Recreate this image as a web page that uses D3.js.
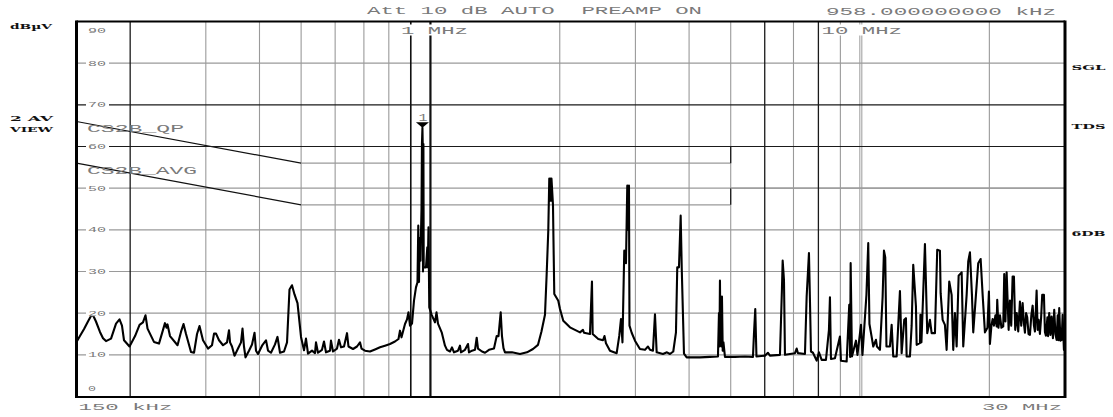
<!DOCTYPE html>
<html>
<head>
<meta charset="utf-8">
<script src="https://cdn.jsdelivr.net/npm/d3@7"></script>
<style>
  html, body { margin: 0; padding: 0; background: #fff; }
  svg { display: block; }
</style>
</head>
<body>
<svg id="chart" width="1113" height="417"></svg>
<script>
// ---- Sweep trace: frequency in MHz, level in dBµV ----
const traceFreq = [
  0.1500, 0.1528, 0.1562, 0.1595, 0.1621, 0.1639, 0.1665, 0.1701, 0.1729, 0.1757,
  0.1805, 0.1854, 0.1889, 0.1914, 0.1935, 0.1993, 0.2053, 0.2103, 0.2142, 0.2171,
  0.2195, 0.2272, 0.2334, 0.2385, 0.2410, 0.2430, 0.2443, 0.2476, 0.2578, 0.2626,
  0.2662, 0.2698, 0.2771, 0.2816, 0.2862, 0.2900, 0.2955, 0.3035, 0.3101, 0.3135,
  0.3169, 0.3220, 0.3290, 0.3361, 0.3397, 0.3416, 0.3452, 0.3499, 0.3565, 0.3623,
  0.3652, 0.3681, 0.3711, 0.3781, 0.3843, 0.3895, 0.3926, 0.3968, 0.4055, 0.4142,
  0.4187, 0.4254, 0.4347, 0.4405, 0.4465, 0.4562, 0.4636, 0.4698, 0.4761, 0.4826,
  0.4904, 0.4997, 0.5078, 0.5132, 0.5188, 0.5300, 0.5386, 0.5415, 0.5473, 0.5592,
  0.5652, 0.5713, 0.5837, 0.5868, 0.5932, 0.6060, 0.6125, 0.6191,
  0.6292, 0.6394, 0.6445, 0.6603, 0.6746, 0.6855, 0.6911, 0.7041, 0.7232, 0.7429,
  0.7631, 0.7838, 0.8051, 0.8269, 0.8426, 0.8494, 0.8563, 0.8725, 0.8819, 0.8890,
  0.8962, 0.9059, 0.9156, 0.9254, 0.9329, 0.9369, 0.9404, 0.9440, 0.9481, 0.9510,
  0.9532, 0.9555, 0.9580, 0.9595, 0.9609, 0.9630, 0.9645, 0.9660, 0.9764, 0.9833,
  0.9859, 0.9896, 0.9938, 1.0067,
  1.0247, 1.0330, 1.0413, 1.0621, 1.0811, 1.0927, 1.1105, 1.1224, 1.1345, 1.1591,
  1.1716, 1.1779, 1.2034, 1.2229, 1.2295, 1.2494, 1.2697, 1.2813, 1.2903, 1.3182,
  1.3396, 1.3686, 1.4057, 1.4263, 1.4401, 1.4572, 1.4673, 1.4792, 1.4912, 1.5482,
  1.6160, 1.6778, 1.7327, 1.7798, 1.8132, 1.8476, 1.8645, 1.8806, 1.8907, 1.8968,
  1.9029, 1.9080, 1.9131, 1.9286, 1.9337, 1.9421, 1.9841, 2.0024,
  2.0380, 2.1125, 2.1699, 2.2289, 2.2650, 2.2772, 2.3514, 2.3704, 2.3768, 2.3858,
  2.4585, 2.5212, 2.5416, 2.5621, 2.6177, 2.7134, 2.7515, 2.7766, 2.7990, 2.8262,
  2.8520, 2.8720, 2.8850, 2.8983, 2.9061, 2.9406, 2.9931, 3.0741, 3.1576, 3.2089, 3.2435,
  3.2961, 3.3317, 3.3621, 3.4777, 3.5529, 3.6104, 3.6750, 3.7285, 3.7546, 3.7890,
  3.8236, 3.8463, 3.8920, 3.9488, 4.2402, 4.4738, 4.6696, 4.6947, 4.7070, 4.7198,
  4.7325, 4.7453, 4.7580, 4.7708, 4.7900, 4.8093, 4.8482, 5.1153, 5.3966, 5.6332,
  5.6635, 5.7031, 5.7399, 6.0071, 6.1046, 6.1703, 6.5104, 6.5806, 6.6052, 6.6516,
  6.6873, 7.0550, 7.1198, 7.1695, 7.4438, 7.5119, 7.6052, 7.6461, 7.6873, 7.7702,
  7.9253, 8.0234,
  8.1405, 8.3303, 8.4654, 8.5110, 8.5567, 8.7423, 8.9791, 9.0274, 9.3077, 9.4383,
  9.4839, 9.5094, 9.5759, 9.7836, 9.8625, 10.050, 10.131, 10.349, 10.450, 10.517,
  10.631, 10.734, 10.890, 10.949, 11.126, 11.288, 11.368, 11.447, 11.521, 11.738,
  11.846, 11.948, 12.168, 12.385, 12.498, 12.674, 12.790, 12.838, 13.067, 13.187,
  13.300, 13.494, 13.545, 13.786, 13.824, 13.898, 14.161, 14.337, 14.546, 14.679,
  14.941, 15.125, 15.346, 15.404, 15.570, 15.762, 15.907, 16.130, 16.339, 16.480,
  16.631, 16.783, 16.964, 17.240, 17.388, 17.708, 17.860, 18.023, 18.218, 18.345,
  18.843, 19.087, 19.293, 19.533, 19.797, 19.954,
  20.062, 20.224, 20.355, 20.497, 20.663, 20.796, 20.863, 20.997, 21.167, 21.338,
  21.545, 21.661, 21.800, 21.941, 22.178, 22.333, 22.488, 22.657, 22.815, 22.976,
  23.161, 23.348, 23.561, 23.727, 23.906, 24.073, 24.202, 24.358, 24.502, 24.673,
  24.860, 25.047, 25.222, 25.399, 25.536, 25.767, 25.905, 26.044, 26.226, 26.396,
  26.552, 26.795, 26.939, 27.084, 27.302, 27.390, 27.567, 27.745, 27.924, 28.120,
  28.316, 28.499, 28.683, 28.851, 28.960, 29.084, 29.274, 29.463, 29.622, 29.828,
  30.000
];
const traceLevel = [
  13.1, 14.5, 16.2, 18.0, 19.3, 19.5, 18.0, 15.5, 14.0, 13.3,
  13.9, 17.5, 18.5, 17.0, 13.5, 12.0, 14.5, 17.2, 17.8, 19.5,
  16.3, 13.1, 12.7, 16.0, 17.6, 16.5, 17.3, 14.5, 12.3, 15.5,
  17.4, 15.0, 10.7, 10.5, 15.0, 16.9, 13.5, 11.5, 12.3, 15.1,
  15.1, 13.5, 12.3, 13.0, 15.9, 13.0, 12.0, 9.8, 11.5, 13.0,
  16.3, 12.0, 9.4, 11.0, 12.5, 15.3, 11.0, 10.2, 12.2, 13.5,
  11.0, 10.5, 12.5, 14.3, 10.5, 10.8, 13.0, 25.7, 26.7, 24.5,
  22.4, 14.3, 11.1, 13.9, 10.3, 11.0, 10.4, 13.0, 10.5, 11.2,
  13.2, 10.6, 11.0, 13.4, 10.8, 11.5, 13.6, 11.8,
  12.0, 15.2, 12.0, 11.4, 12.0, 13.0, 11.5, 11.0, 10.8, 11.3,
  11.8, 12.2, 12.6, 13.2, 13.8, 15.8, 14.2, 17.4, 18.5, 20.2,
  17.0, 17.5, 23.0, 26.2, 27.4, 41.0, 27.5, 38.0, 32.6, 40.0,
  45.0, 60.6, 64.5, 60.6, 30.0, 60.6, 31.0, 31.0, 31.0, 35.8,
  31.0, 40.6, 21.4, 19.6,
  17.8, 20.2, 17.5, 15.4, 12.2, 11.2, 10.8, 11.8, 10.6, 11.0,
  12.2, 10.6, 11.2, 12.6, 10.6, 11.0, 11.2, 14.1, 11.5, 10.8,
  10.5, 11.2, 11.5, 14.5, 14.5, 20.2, 14.5, 11.6, 10.6, 10.6,
  10.2, 10.6, 11.4, 12.4, 15.6, 19.6, 29.4, 39.8, 52.3, 47.0,
  52.3, 47.0, 52.3, 46.0, 37.6, 24.6, 23.0, 21.0,
  18.2, 16.6, 16.0, 15.4, 16.0, 15.3, 15.0, 24.5, 27.6, 15.0,
  13.8, 13.5, 14.5, 12.8, 11.0, 10.4, 14.6, 18.6, 13.0, 35.0,
  32.0, 50.6, 40.0, 50.6, 17.0, 15.3, 13.4, 11.4, 11.2, 12.0, 11.2,
  11.0, 19.7, 10.6, 10.2, 10.6, 10.2, 10.8, 15.4, 31.0, 31.0,
  43.4, 30.5, 10.3, 9.4, 9.4, 9.5, 9.6, 20.0, 12.0, 27.8,
  14.0, 19.0, 12.0, 24.0, 11.0, 13.0, 9.5, 9.5, 9.6, 9.5,
  15.0, 21.0, 9.6, 9.8, 10.5, 9.8, 10.0, 26.0, 32.6, 28.0,
  10.0, 10.4, 11.5, 10.4, 10.2, 24.0, 34.4, 23.0, 10.8, 10.5,
  8.6, 10.6,
  8.8, 8.8, 16.0, 23.8, 9.0, 9.2, 14.4, 8.6, 8.4, 22.0,
  9.5, 32.0, 9.6, 13.4, 10.0, 17.2, 10.0, 24.4, 36.8, 17.4,
  14.6, 12.0, 13.6, 12.0, 11.2, 24.0, 35.0, 33.4, 12.0, 12.0,
  17.2, 9.6, 9.6, 25.3, 10.4, 18.4, 18.8, 9.6, 9.6, 17.0,
  31.6, 21.6, 12.4, 12.8, 19.6, 13.0, 36.6, 15.2, 18.4, 15.2,
  15.2, 35.2, 35.0, 24.8, 18.4, 17.2, 11.2, 27.6, 24.4, 11.2,
  20.0, 12.0, 29.0, 29.8, 12.0, 24.4, 32.4, 34.6, 24.4, 15.4,
  32.0, 33.0, 24.4, 15.4, 16.5, 25.2,
  12.6, 17.0, 18.6, 17.0, 19.5, 16.8, 23.2, 16.5, 19.5, 16.5,
  16.8, 29.4, 18.0, 29.8, 16.0, 23.0, 17.0, 28.8, 28.8, 16.0,
  20.0, 15.6, 22.8, 17.0, 22.4, 17.5, 15.3, 20.0, 19.0, 15.0,
  14.8, 19.5, 21.8, 17.0, 15.6, 25.4, 16.0, 18.4, 15.0, 19.0,
  24.4, 24.4, 15.5, 14.6, 19.0, 14.5, 20.0, 14.8, 19.2, 14.0,
  20.8, 15.0, 13.6, 19.5, 13.5, 21.2, 13.4, 13.6, 19.6, 11.2,
  11.5
];

// ---- CISPR 22 class B conducted limits ----
const qpLimitFreq   = [0.15, 0.5, 5, 5, 30];
const qpLimitLevel  = [66, 56, 56, 60, 60];
const avgLimitFreq  = [0.15, 0.5, 5, 5, 30];
const avgLimitLevel = [56, 46, 46, 50, 50];

// ---- Axis grid ----
const levelTicks      = [0, 10, 20, 30, 40, 50, 60, 70, 80, 90];
const levelGridLight  = [10, 20, 30, 40, 50, 80];
const levelGridDark   = [60, 70];
const freqGridLight   = [0.3, 0.4, 0.5, 0.6, 0.7, 0.8, 2, 3, 4, 5, 7, 9, 20];
const freqGridDark    = [0.2, 6, 8];
const freqLines       = [0.9, 1];
const freqDoubleLine  = [10];

// ---- Marker ----
const markerFreq  = 0.958;
const markerLevel = 64.5;
const markerName  = "1";

const svg = d3.select("#chart");
const x = d3.scaleLog().domain([0.15, 30]).range([76.5, 1065]);
const y = d3.scaleLinear().domain([0, 90]).range([396.5, 21.5]);
const [x0, x1] = x.range();
const yTop = y(90), yBot = y(0);

const MONO = "'Liberation Mono', 'DejaVu Sans Mono', monospace";
const BOLD = "'DejaVu Serif', 'Liberation Serif', serif";
const GREY_TXT = "#7a7a7a";

function label(str, left, baseline, len, size, opts = {}) {
  return svg.append("text")
    .attr("x", left).attr("y", baseline)
    .attr("textLength", len).attr("lengthAdjust", "spacingAndGlyphs")
    .style("white-space", "pre")
    .attr("font-family", opts.family || MONO)
    .attr("font-size", size)
    .attr("font-weight", opts.weight || "normal")
    .attr("fill", opts.fill || GREY_TXT)
    .text(str);
}

// light grid
const grid = svg.append("g");
grid.selectAll(".hl").data(levelGridLight).join("line")
  .attr("x1", x0).attr("x2", x1)
  .attr("y1", d => y(d)).attr("y2", d => y(d))
  .attr("stroke", "#9a9a9a").attr("stroke-width", 1.1);
grid.selectAll(".vl").data(freqGridLight).join("line")
  .attr("x1", d => x(d)).attr("x2", d => x(d))
  .attr("y1", yTop).attr("y2", yBot)
  .attr("stroke", "#9a9a9a").attr("stroke-width", 1.1);
freqDoubleLine.forEach(f => {
  [-0.2, 1.8].forEach(off => {
    grid.append("line")
      .attr("x1", x(f) + off).attr("x2", x(f) + off)
      .attr("y1", yTop).attr("y2", yBot)
      .attr("stroke", "#9a9a9a").attr("stroke-width", 1);
  });
});

// limit lines: sloped/step segments dark, flat segments light
function limit(freqs, levels) {
  for (let i = 0; i < freqs.length - 1; i++) {
    const flat = levels[i] === levels[i + 1];
    svg.append("line")
      .attr("x1", x(freqs[i])).attr("y1", y(levels[i]))
      .attr("x2", x(freqs[i + 1])).attr("y2", y(levels[i + 1]))
      .attr("stroke", flat ? "#9a9a9a" : "#111")
      .attr("stroke-width", flat ? 1.1 : 1.2);
  }
}
limit(qpLimitFreq, qpLimitLevel);
limit(avgLimitFreq, avgLimitLevel);

// dark grid / display lines
svg.selectAll(".hd").data(levelGridDark).join("line")
  .attr("x1", x0).attr("x2", x1)
  .attr("y1", d => y(d)).attr("y2", d => y(d))
  .attr("stroke", "#1a1a1a").attr("stroke-width", 1.2);
svg.selectAll(".vd").data(freqGridDark).join("line")
  .attr("x1", d => x(d)).attr("x2", d => x(d))
  .attr("y1", yTop).attr("y2", yBot)
  .attr("stroke", "#1a1a1a").attr("stroke-width", 1.3);
svg.selectAll(".fl").data(freqLines).join("line")
  .attr("x1", d => x(d)).attr("x2", d => x(d))
  .attr("y1", yTop).attr("y2", yBot)
  .attr("stroke", "#111").attr("stroke-width", (d, i) => i === 0 ? 1.6 : 2.2);

// trace
const line = d3.line()
  .x(i => x(traceFreq[i]))
  .y(i => y(traceLevel[i]));
svg.append("path")
  .attr("d", line(d3.range(traceFreq.length)))
  .attr("fill", "none")
  .attr("stroke", "#000")
  .attr("stroke-width", 2.1)
  .attr("stroke-linejoin", "round");

// marker
const mx = x(markerFreq), my = y(markerLevel);
svg.append("path")
  .attr("d", `M${mx - 6.5},${my - 5.5}L${mx + 6.5},${my - 5.5}L${mx},${my}Z`)
  .attr("fill", "#000");
label(markerName, mx - 4, my - 7, 9, 10);

// frequency labels inside the top of the plot (white knock-out behind)
svg.append("rect").attr("x", 400).attr("y", 24.5).attr("width", 69).attr("height", 11).attr("fill", "#fff");
svg.append("rect").attr("x", 820).attr("y", 24.5).attr("width", 84).attr("height", 11).attr("fill", "#fff");
label("1 MHz", 401, 33.5, 67, 10);
label("10 MHz", 821.5, 33.5, 80.5, 10);

// level labels
levelTicks.forEach(v => {
  const s = String(v);
  const len = s.length === 1 ? 8 : 18;
  let base;
  if (v === 90) base = 32.5;
  else if (v === 0) base = 391;
  else base = y(v) + 2.6;
  if (v !== 90 && v !== 0) {
    svg.append("rect").attr("x", 86).attr("y", y(v) - 3).attr("width", len + 5).attr("height", 6).attr("fill", "#fff");
  }
  label(s, 88, base, len, 7.5);
});

// limit names
label("CS2B_QP", 87, 132, 97, 10);
label("CS2B_AVG", 87, 173.5, 110, 10);

// frame
const frame = svg.append("g").attr("stroke", "#000");
frame.append("line").attr("x1", x0).attr("x2", x0).attr("y1", yTop - 1).attr("y2", yBot + 1.5).attr("stroke-width", 3);
frame.append("line").attr("x1", x1).attr("x2", x1).attr("y1", yTop - 1).attr("y2", yBot + 1.5).attr("stroke-width", 3);
frame.append("line").attr("x1", x0).attr("x2", x1).attr("y1", yTop).attr("y2", yTop).attr("stroke-width", 2);
frame.append("line").attr("x1", x0).attr("x2", x1).attr("y1", yBot + 0.5).attr("y2", yBot + 0.5).attr("stroke-width", 2.2);

// header / footer annotations
label("Att 10 dB AUTO  PREAMP ON", 367, 14.3, 335, 10);
label("958.000000000 kHz", 826, 15, 230, 10);
label("150 kHz", 78.5, 409.5, 94, 9.5);
label("30 MHz", 982, 410, 80, 9.5);

// side annotations
const side = { family: BOLD, weight: "bold", fill: "#111" };
label("dBµV", 10, 29, 42, 8, side);
label("2 AV", 10, 121, 43, 8, side);
label("VIEW", 10, 132, 43, 8, side);
label("SGL", 1071.5, 69.5, 34, 8, side);
label("TDS", 1071.5, 128.5, 34, 8, side);
label("6DB", 1071.5, 235.5, 34, 8, side);
</script>
</body>
</html>
